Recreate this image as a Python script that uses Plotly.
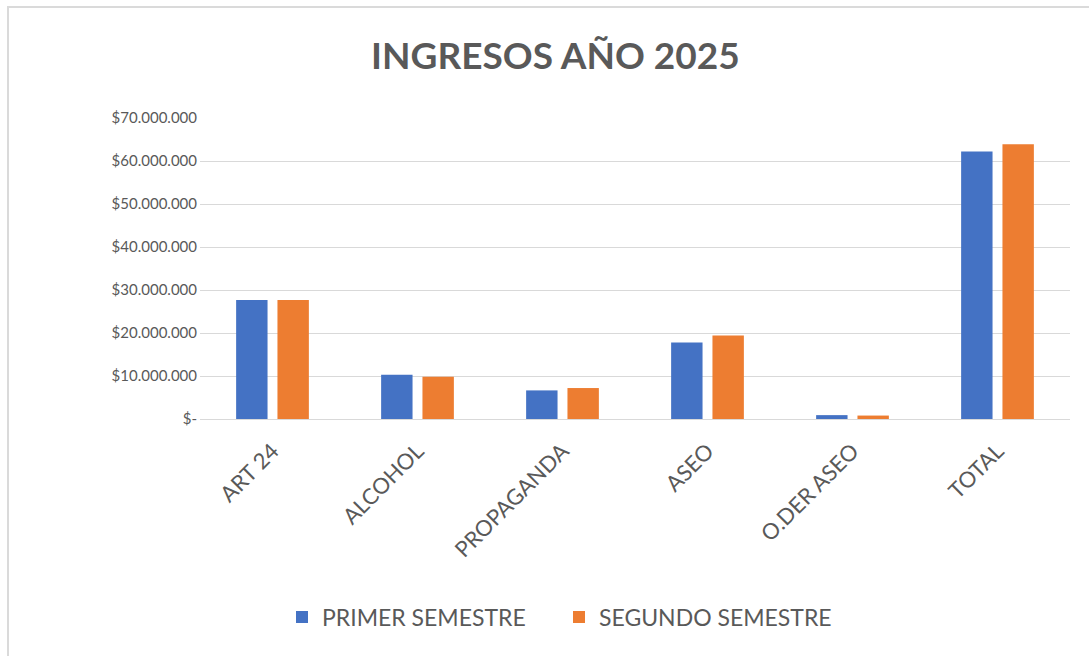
import plotly.graph_objects as go

categories = ["ART 24", "ALCOHOL", "PROPAGANDA", "ASEO", "O.DER ASEO", "TOTAL"]
primer = [27700000, 10300000, 6650000, 17800000, 900000, 62200000]
segundo = [27700000, 9800000, 7200000, 19400000, 800000, 63900000]
tick_vals = [0, 10000000, 20000000, 30000000, 40000000, 50000000, 60000000, 70000000]
tick_text = ["$-", "$10.000.000", "$20.000.000", "$30.000.000", "$40.000.000",
             "$50.000.000", "$60.000.000", "$70.000.000"]

FONT = "Lato"
GRAY = "#595959"

fig = go.Figure()
fig.add_trace(go.Bar(name="PRIMER SEMESTRE", x=categories, y=primer,
                     marker=dict(color="#4472C4", line=dict(width=0))))
fig.add_trace(go.Bar(name="SEGUNDO SEMESTRE", x=categories, y=segundo,
                     marker=dict(color="#ED7D31", line=dict(width=0))))

W, H = 1089, 656
L, R, T, B = 200, 19, 118, 237
pw, ph = W - L - R, H - T - B

def px(x):
    return (x - L) / pw

def py(y):
    return (H - B - y) / ph

fig.update_layout(
    width=W, height=H,
    margin=dict(l=L, r=R, t=T, b=B),
    paper_bgcolor="white", plot_bgcolor="white",
    barmode="group", bargap=0.43, bargroupgap=0.24,
    font=dict(family=FONT, color=GRAY, size=16),
    title=dict(text="<b>INGRESOS AÑO 2025</b>", x=0.51, xanchor="center",
               y=1 - 56 / H, yanchor="middle",
               font=dict(family=FONT, size=37, color=GRAY)),
    xaxis=dict(tickangle=-45, showgrid=False, showline=False, ticks="",
               tickfont=dict(size=22, color=GRAY), ticklabelstandoff=14),
    yaxis=dict(range=[0, 70000000], tickvals=tick_vals, ticktext=tick_text,
               showgrid=True, gridcolor="#d9d9d9", gridwidth=1,
               zeroline=True, zerolinecolor="#d9d9d9", zerolinewidth=1,
               tickfont=dict(size=15, color=GRAY), ticks="",
               ticklabelstandoff=2),
    legend=dict(orientation="h", x=px(282), xanchor="left", y=py(617), yanchor="middle",
                font=dict(size=23, color=GRAY), itemwidth=30, entrywidth=232,
                traceorder="normal"),
    shapes=[dict(type="rect", xref="paper", yref="paper",
                 x0=px(8), x1=px(1200), y0=py(800), y1=py(7),
                 line=dict(color="#dadada", width=2), layer="below")],
)

fig.write_html("out.html", config={"displayModeBar": False},
               post_script="document.body.style.margin='0';document.body.style.padding='0';")
